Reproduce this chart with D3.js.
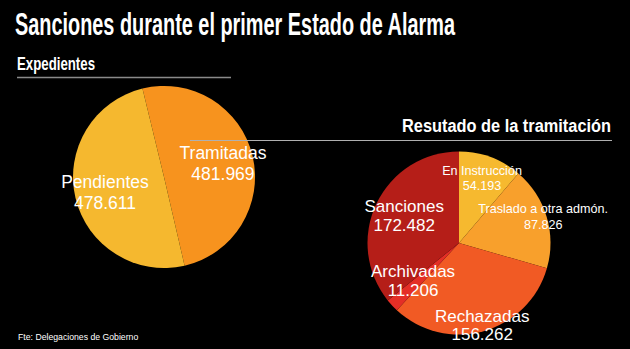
<!DOCTYPE html>
<html><head><meta charset="utf-8">
<script src="https://cdn.jsdelivr.net/npm/d3@7"></script>
<style>
html,body{margin:0;padding:0;background:#000;}
svg{display:block;}
</style></head>
<body>
<svg id="chart" width="630" height="349"></svg>
<script>
// ---- data ----
const expCategories = ["Tramitadas", "Pendientes"];
const expValues = [481969, 478611];
const expLabels = ["481.969", "478.611"];

const resCategories = ["En Instrucción", "Traslado a otra admón.", "Rechazadas", "Archivadas", "Sanciones"];
const resValues = [54193, 87826, 156262, 11206, 172482];
const resLabels = ["54.193", "87.826", "156.262", "11.206", "172.482"];

const titleText = "Sanciones durante el primer Estado de Alarma";
const leftTitle = "Expedientes";
const rightTitle = "Resutado de la tramitación";
const sourceText = "Fte: Delegaciones de Gobierno";

// ---- styles / layout ----
const expColors = ["#F7931E", "#F5B82F"];
const resColors = ["#F6B92F", "#F8A02C", "#F15A24", "#E42E26", "#B51E18"];
const narrow = "'Liberation Sans Narrow','Arial Narrow','Liberation Sans',Arial,sans-serif";
const sans = "'Liberation Sans',Arial,Helvetica,sans-serif";

const svg = d3.select("#chart");
svg.append("rect").attr("width", 630).attr("height", 349).attr("fill", "#000");

// title
svg.append("text").attr("x", 15).attr("y", 35)
  .attr("font-family", narrow).attr("font-weight", "bold").attr("font-size", 30.5)
  .attr("textLength", 440).attr("lengthAdjust", "spacingAndGlyphs")
  .attr("fill", "#fff").text(titleText);

svg.append("text").attr("x", 17).attr("y", 70)
  .attr("font-family", narrow).attr("font-weight", "bold").attr("font-size", 17.5)
  .attr("textLength", 78).attr("lengthAdjust", "spacingAndGlyphs")
  .attr("fill", "#fff").text(leftTitle);
svg.append("line").attr("x1", 17).attr("x2", 231).attr("y1", 77.5).attr("y2", 77.5)
  .attr("stroke", "#8a8a8a").attr("stroke-width", 1.5);

// left pie
const leftStart = -13.7 * Math.PI / 180;
const pieL = d3.pie().sort(null).value(d => d)
  .startAngle(leftStart).endAngle(leftStart + 2 * Math.PI);
const arcsL = pieL(expValues);
const rL = 91;
const gL = svg.append("g").attr("transform", "translate(164,177)");
const arcL = d3.arc().innerRadius(0).outerRadius(rL);
gL.selectAll("path").data(arcsL).join("path")
  .attr("d", arcL).attr("fill", (d, i) => expColors[i]);

// right title + line (drawn above left pie)
svg.append("line").attr("x1", 190).attr("x2", 612).attr("y1", 140.5).attr("y2", 140.5)
  .attr("stroke", "#b0b0b0").attr("stroke-width", 1);
svg.append("text").attr("x", 402).attr("y", 132)
  .attr("font-family", narrow).attr("font-weight", "bold").attr("font-size", 18.7)
  .attr("textLength", 209).attr("lengthAdjust", "spacingAndGlyphs")
  .attr("fill", "#fff").text(rightTitle);

const leftLabelPos = [{r: 59.5, da: 5.7, fs: 17.5, gap: 21}, {r: 63, da: -7, fs: 17.5, gap: 21}];
arcsL.forEach((d, i) => {
  const p = leftLabelPos[i];
  const a = (d.startAngle + d.endAngle) / 2 + p.da * Math.PI / 180;
  const x = Math.sin(a) * p.r, y = -Math.cos(a) * p.r;
  const t = gL.append("text").attr("text-anchor", "middle")
    .attr("font-family", sans).attr("font-size", p.fs).attr("fill", "#fff");
  t.append("tspan").attr("x", x).attr("y", y - p.gap / 2).text(expCategories[i]);
  t.append("tspan").attr("x", x).attr("y", y + p.gap / 2).text(expLabels[i]);
});

// right pie
const pieR = d3.pie().sort(null).value(d => d);
const arcsR = pieR(resValues);
const rR = 91.5;
const gR = svg.append("g").attr("transform", "translate(459,243)");
const arcR = d3.arc().innerRadius(0).outerRadius(rR);
gR.selectAll("path").data(arcsR).join("path")
  .attr("d", arcR).attr("fill", (d, i) => resColors[i]);

const resLabelPos = [
  {r: 65, da: 0.5, fs: 12.6, gap: 15},
  {r: 87, da: 2, fs: 12.6, gap: 16},
  {r: 91, da: 0.8, fs: 17, gap: 18.5},
  {r: 63.6, da: -0.7, fs: 17, gap: 19},
  {r: 59, da: -3.8, fs: 17, gap: 19}
];
arcsR.forEach((d, i) => {
  const p = resLabelPos[i];
  const a = (d.startAngle + d.endAngle) / 2 + p.da * Math.PI / 180;
  const x = Math.sin(a) * p.r, y = -Math.cos(a) * p.r;
  const t = gR.append("text").attr("text-anchor", "middle")
    .attr("font-family", sans).attr("font-size", p.fs).attr("fill", "#fff");
  t.append("tspan").attr("x", x).attr("y", y - p.gap / 2).text(resCategories[i]);
  t.append("tspan").attr("x", x).attr("y", y + p.gap / 2).text(resLabels[i]);
});

// source
svg.append("text").attr("x", 18).attr("y", 339.5)
  .attr("font-family", sans).attr("font-size", 8.7).attr("fill", "#fff").text(sourceText);
</script>
</body></html>
